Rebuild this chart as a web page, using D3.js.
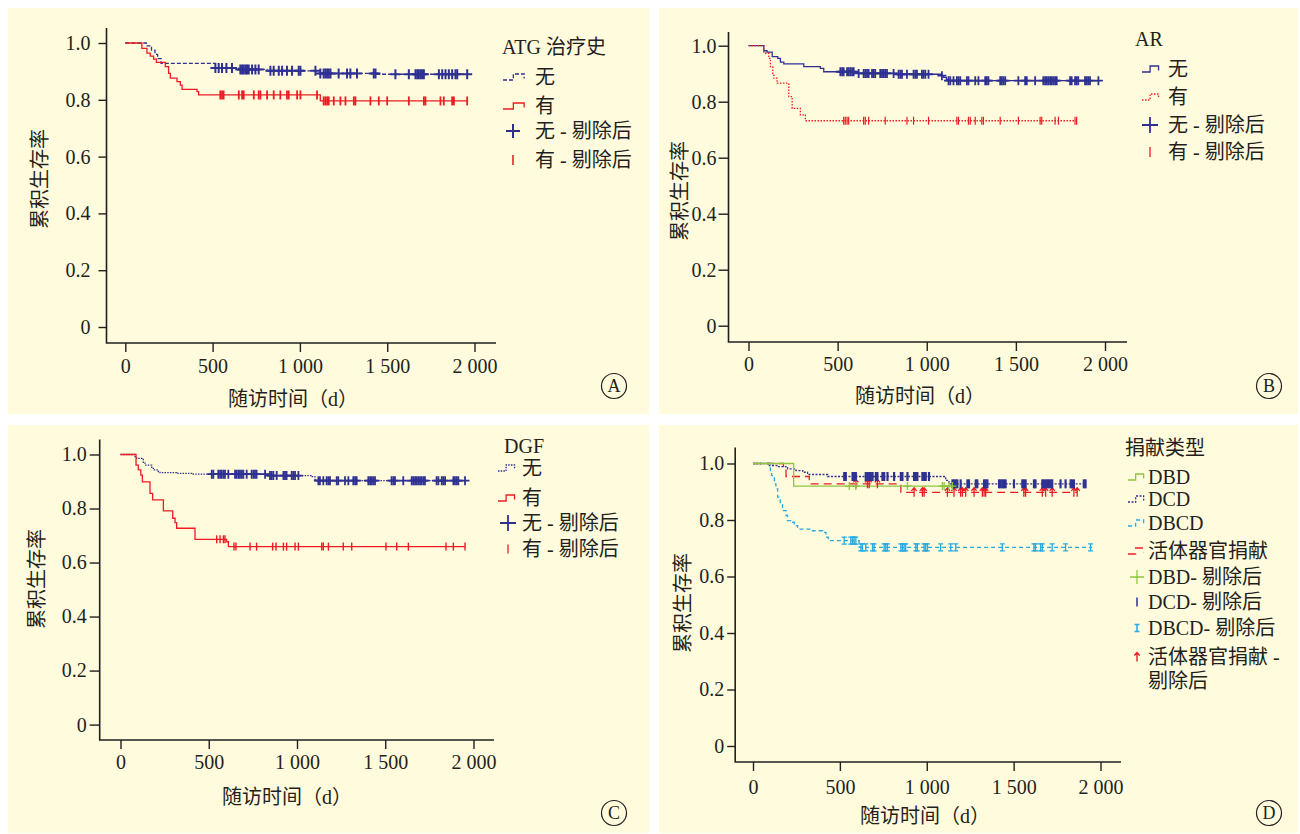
<!DOCTYPE html>
<html><head><meta charset="utf-8">
<script src="https://cdn.jsdelivr.net/npm/d3@7"></script>
<style>
body{margin:0;background:#fff;}
text{font-family:"Liberation Serif","Noto Sans CJK SC",serif;fill:#231F20;}
</style>
</head><body><script>
// ---------------- DATA ----------------
const xTickValues=[0,500,1000,1500,2000];
const xTickLabels=["0","500","1 000","1 500","2 000"];
const yTickValues=[0,0.2,0.4,0.6,0.8,1.0];
const yTickLabels=["0","0.2","0.4","0.6","0.8","1.0"];
const xAxisTitle="随访时间（d）";
const yAxisTitle="累积生存率";
const panelLetters=["A","B","C","D"];

// Panel A: ATG 治疗史
const atgTitle="ATG 治疗史";
const atgLabels=["无","有","无 - 剔除后","有 - 剔除后"];
const atgNoTime=[0,120,150,170,185,205,516,650,812,1098,1442];
const atgNoSurv=[1,0.99,0.975,0.96,0.945,0.928,0.912,0.907,0.902,0.893,0.890];
const atgNoEnd=1968;
const atgNoCensor=[516,535,554,579,611,659,669,678,688,697,707,726,745,764,831,850,879,898,926,955,993,1003,1089,1117,1136,1146,1156,1165,1175,1222,1270,1289,1327,1423,1433,1547,1624,1662,1672,1681,1691,1700,1710,1796,1815,1834,1853,1872,1891,1901,1958];
const atgYesTime=[0,95,124,143,162,178,229,248,258,296,315,325,411,420,1117];
const atgYesSurv=[1,0.981,0.964,0.954,0.943,0.932,0.917,0.893,0.876,0.864,0.852,0.837,0.829,0.817,0.796];
const atgYesEnd=1958;
const atgYesCensor=[544,554,563,650,669,678,736,764,774,812,850,888,926,936,984,1003,1098,1136,1146,1156,1165,1194,1232,1261,1309,1318,1404,1452,1500,1624,1710,1719,1805,1824,1872,1882,1958];

// Panel B: AR
const arTitle="AR";
const arLabels=["无","有","无 - 剔除后","有 - 剔除后"];
const arNoTime=[0,86,104,133,164,179,198,310,403,422,609,842,1085,1095,1110,1122];
const arNoSurv=[1,0.982,0.977,0.961,0.955,0.941,0.935,0.925,0.919,0.907,0.901,0.898,0.893,0.887,0.880,0.875];
const arNoEnd=1963;
const arNoCensor=[515,525,534,553,562,571,581,590,618,646,655,665,674,693,702,711,739,749,758,767,777,814,842,852,861,889,926,936,945,973,982,992,1010,1085,1122,1132,1150,1169,1178,1188,1225,1234,1272,1290,1328,1337,1346,1412,1421,1430,1440,1514,1552,1561,1608,1654,1664,1673,1682,1692,1701,1710,1720,1729,1804,1813,1832,1841,1850,1888,1897,1906,1916,1963];
const arYesTime=[0,86,114,123,136,142,160,226,245,291,319];
const arYesSurv=[1,0.973,0.955,0.925,0.901,0.884,0.866,0.818,0.776,0.753,0.732];
const arYesEnd=1841;
const arYesCensor=[534,543,553,562,646,655,674,767,889,926,1010,1169,1178,1234,1244,1272,1309,1318,1412,1514,1636,1645,1720,1739,1832,1841];

// Panel C: DGF
const dgfTitle="DGF";
const dgfLabels=["无","有","无 - 剔除后","有 - 剔除后"];
const dgfNoTime=[0,82,92,129,139,177,186,214,224,318,403,838,1083,1102,1111];
const dgfNoSurv=[1,0.992,0.986,0.968,0.961,0.949,0.943,0.937,0.933,0.930,0.927,0.922,0.918,0.908,0.903];
const dgfNoEnd=1952;
const dgfNoCensor=[517,526,554,564,573,583,592,611,649,658,668,677,687,696,715,743,753,762,771,819,847,856,866,885,923,932,941,970,979,989,1008,1121,1130,1149,1168,1178,1187,1225,1234,1272,1291,1319,1329,1338,1404,1414,1423,1432,1442,1536,1546,1555,1602,1650,1659,1669,1678,1687,1697,1706,1716,1725,1791,1801,1820,1829,1839,1886,1895,1905,1914,1952];
const dgfYesTime=[0,88,101,115,124,167,182,243,296,309,318,422,601,611];
const dgfYesSurv=[1,0.961,0.943,0.924,0.899,0.856,0.832,0.791,0.764,0.748,0.727,0.686,0.677,0.659];
const dgfYesEnd=1952;
const dgfYesCensor=[545,564,583,592,643,654,734,771,862,881,923,941,989,1008,1140,1149,1178,1262,1310,1504,1565,1631,1844,1886,1952];

// Panel D: 捐献类型
const donorTitle="捐献类型";
const donorLabels=["DBD","DCD","DBCD","活体器官捐献","DBD- 剔除后","DCD- 剔除后","DBCD- 剔除后","活体器官捐献 -","剔除后"];
const dbdTime=[0,234];
const dbdSurv=[1,0.920];
const dbdEnd=1176;
const dbdCensor=[554,592,889,1090,1100,1128,1148];
const dcdTime=[0,94,142,190,199,247,286,314,429,1109,1128];
const dcdSurv=[1,0.993,0.989,0.985,0.981,0.975,0.969,0.961,0.954,0.940,0.928];
const dcdEnd=1914;
const dcdCensor=[525,534,573,582,592,649,659,669,678,688,707,716,745,755,774,812,851,860,889,927,937,946,975,985,994,1013,1148,1157,1167,1176,1195,1234,1243,1282,1291,1330,1339,1349,1416,1425,1435,1444,1454,1502,1550,1559,1569,1617,1626,1665,1674,1684,1693,1703,1713,1722,1770,1799,1828,1837,1847,1904,1914];
const dbcdTime=[0,100,107,123,132,142,157,170,190,199,218,238,257,333,400,420,433,611];
const dbcdSurv=[1,0.975,0.957,0.928,0.910,0.881,0.857,0.833,0.816,0.798,0.792,0.780,0.768,0.762,0.756,0.739,0.727,0.703];
const dbcdEnd=1952;
const dbcdCensor=[525,563,573,582,592,621,630,649,688,697,755,764,774,851,860,870,879,937,946,985,994,1004,1080,1138,1167,1435,1617,1626,1655,1665,1722,1799,1943];
const livingTime=[0,175,190,324,851];
const livingSurv=[1,0.99,0.954,0.928,0.898];
const livingEnd=1866;
const livingCensor=[592,659,669,716,927,975,985,1119,1157,1195,1205,1224,1272,1320,1330,1339,1559,1569,1665,1684,1722,1847,1866];

// ---------------- STYLE ----------------
const NAVY="#2E3192", RED="#ED1C24", LBLUE="#27A9E1", GREEN="#8DC63F", BG="#FFFBDC", AX="#231F20";

const svg=d3.select("body").append("svg").attr("width",1300).attr("height",834);
svg.append("rect").attr("width",1300).attr("height",834).attr("fill","#fff");

function stepAt(times,surv,t){let v=surv[0];for(let i=0;i<times.length;i++){if(times[i]<=t)v=surv[i];}return v;}

function markPath(m,cx,cy){
  const s=m.size;
  if(m.type==="plus") return `M${cx-s},${cy}H${cx+s}M${cx},${cy-s}V${cy+s}`;
  if(m.type==="tick") return `M${cx},${cy-s}V${cy+s}`;
  if(m.type==="ibar") return `M${cx},${cy-s}V${cy+s}M${cx-2.5},${cy-s}H${cx+2.5}M${cx-2.5},${cy+s}H${cx+2.5}`;
  if(m.type==="arrow") return `M${cx},${cy+s}V${cy-s}M${cx-2.6},${cy-s+3}L${cx},${cy-s}L${cx+2.6},${cy-s+3}`;
  return "";
}

function drawPanel(c){
  const g=svg.append("g");
  g.append("rect").attr("x",c.bg[0]).attr("y",c.bg[1]).attr("width",c.bg[2]).attr("height",c.bg[3]).attr("fill",BG);
  const x=d3.scaleLinear().domain([0,2000]).range([c.x0,c.x2000]);
  const y=d3.scaleLinear().domain([0,1]).range([c.y0,c.y1]);

  const ya=g.append("g").attr("transform",`translate(${c.left},0)`)
    .call(d3.axisLeft(y).tickValues(yTickValues).tickFormat(d=>yTickLabels[yTickValues.indexOf(d)]).tickSize(c.yTick).tickPadding(c.yPad));
  const xa=g.append("g").attr("transform",`translate(0,${c.bottom})`)
    .call(d3.axisBottom(x).tickValues(xTickValues).tickFormat(d=>xTickLabels[xTickValues.indexOf(d)]).tickSize(c.xTick).tickPadding(c.xPad));
  [ya,xa].forEach(a=>{
    a.select(".domain").remove();
    a.selectAll("line").attr("stroke",AX).attr("stroke-width",1.4);
    a.selectAll("text").attr("font-size",20).attr("fill",AX).attr("font-family",'"Liberation Serif",serif');
  });
  g.append("path").attr("d",`M${c.left},${c.top}V${c.bottom}H${c.right}`).attr("fill","none").attr("stroke",AX).attr("stroke-width",1.6);

  // curves
  c.series.forEach(s=>{
    const pts=s.time.map((t,i)=>[t,s.surv[i]]);
    pts.push([s.end,s.surv[s.surv.length-1]]);
    g.append("path").attr("d",d3.line().x(d=>x(d[0])).y(d=>y(d[1])).curve(d3.curveStepAfter)(pts))
      .attr("fill","none").attr("stroke",s.color).attr("stroke-width",1.3)
      .attr("stroke-dasharray",s.dash||null);
  });
  // censor marks
  c.series.forEach(s=>{
    s.censor.forEach(t=>{
      g.append("path").attr("d",markPath(s.mark,x(t),y(stepAt(s.time,s.surv,t))))
        .attr("fill","none").attr("stroke",s.color).attr("stroke-width",s.mark.w);
    });
  });

  // axis titles
  g.append("text").attr("x",c.xt[0]).attr("y",c.xt[1]).attr("dy","0.35em").attr("text-anchor","middle").attr("font-size",20).text(xAxisTitle);
  g.append("text").attr("transform",`translate(${c.yt[0]},${c.yt[1]}) rotate(-90)`).attr("dy","0.35em").attr("text-anchor","middle").attr("font-size",20).text(yAxisTitle);

  // legend
  const L=c.legend;
  g.append("text").attr("x",L.titleX).attr("y",L.titleY).attr("dy","0.35em").attr("font-size",20).text(L.title);
  L.labels.forEach((lab,i)=>{
    const ry=L.rows[i];
    g.append("text").attr("x",L.textX).attr("y",ry).attr("dy","0.35em").attr("font-size",20).text(lab);
    const sym=L.syms[i];
    if(!sym) return;
    if(sym.kind==="step"){
      const w=L.symW, x0=L.symX;
      g.append("path").attr("d",`M${x0},${ry+3}H${x0+w*0.45}V${ry-3}H${x0+w*0.92}V${ry+1.5}`)
        .attr("fill","none").attr("stroke",sym.s.color).attr("stroke-width",1.3).attr("stroke-dasharray",sym.s.dash||null);
    } else {
      const m=Object.assign({},sym.s.mark,{size:sym.size||sym.s.mark.size});
      g.append("path").attr("d",markPath(m,L.markX,ry)).attr("fill","none").attr("stroke",sym.s.color).attr("stroke-width",sym.w||sym.s.mark.w);
    }
  });

  // panel letter
  g.append("circle").attr("cx",c.circ[0]).attr("cy",c.circ[1]).attr("r",12.5).attr("fill","none").attr("stroke",AX).attr("stroke-width",1.2);
  g.append("text").attr("x",c.circ[0]).attr("y",c.circ[1]).attr("dy","0.36em").attr("text-anchor","middle").attr("font-size",18).text(c.letter);
}

// ---------------- PANELS ----------------
const sA=[
  {time:atgNoTime,surv:atgNoSurv,end:atgNoEnd,censor:atgNoCensor,color:NAVY,dash:"4,2",mark:{type:"plus",size:5,w:2}},
  {time:atgYesTime,surv:atgYesSurv,end:atgYesEnd,censor:atgYesCensor,color:RED,dash:null,mark:{type:"tick",size:4.5,w:1.8}}
];
drawPanel({bg:[8,8,641,406],left:106.5,right:496,top:28,bottom:343,x0:125.3,x2000:474.5,y0:327,y1:43,
  yTick:8,yPad:8,xTick:9,xPad:7,xt:[293,399],yt:[40,179],circ:[614,386],letter:panelLetters[0],series:sA,
  legend:{title:atgTitle,titleX:502,titleY:47,labels:atgLabels,rows:[77,106,131,160],textX:535,symX:503,symW:23,markX:513,
    syms:[{kind:"step",s:sA[0]},{kind:"step",s:sA[1]},{kind:"mark",s:sA[0],size:7,w:2},{kind:"mark",s:sA[1],size:5,w:1.6}]}});

const sB=[
  {time:arNoTime,surv:arNoSurv,end:arNoEnd,censor:arNoCensor,color:NAVY,dash:null,mark:{type:"plus",size:4.5,w:1.8}},
  {time:arYesTime,surv:arYesSurv,end:arYesEnd,censor:arYesCensor,color:RED,dash:"1.5,1.5",mark:{type:"tick",size:4,w:1.2}}
];
drawPanel({bg:[659,8,639,406],left:728.5,right:1127,top:32,bottom:342,x0:748.5,x2000:1105,y0:325.7,y1:45.7,
  yTick:10,yPad:2,xTick:9,xPad:6,xt:[920,396],yt:[680,191],circ:[1269,386],letter:panelLetters[1],series:sB,
  legend:{title:arTitle,titleX:1135,titleY:39,labels:arLabels,rows:[69,97,125,152],textX:1168,symX:1142,symW:18,markX:1150,
    syms:[{kind:"step",s:sB[0]},{kind:"step",s:sB[1]},{kind:"mark",s:sB[0],size:8,w:1.8},{kind:"mark",s:sB[1],size:5,w:1.3}]}});

const sC=[
  {time:dgfNoTime,surv:dgfNoSurv,end:dgfNoEnd,censor:dgfNoCensor,color:NAVY,dash:"1.5,1.2",mark:{type:"plus",size:4.5,w:1.8}},
  {time:dgfYesTime,surv:dgfYesSurv,end:dgfYesEnd,censor:dgfYesCensor,color:RED,dash:null,mark:{type:"tick",size:4,w:1.4}}
];
drawPanel({bg:[8,425,641,408],left:99.7,right:494,top:439.5,bottom:740,x0:120.5,x2000:473.5,y0:724.6,y1:454.5,
  yTick:10,yPad:3,xTick:9,xPad:6,xt:[287,797],yt:[36.5,579],circ:[614,813],letter:panelLetters[2],series:sC,
  legend:{title:dgfTitle,titleX:504,titleY:446,labels:dgfLabels,rows:[468,498,523,549],textX:522,symX:498,symW:18,markX:508,
    syms:[{kind:"step",s:sC[0]},{kind:"step",s:sC[1]},{kind:"mark",s:sC[0],size:8,w:1.8},{kind:"mark",s:sC[1],size:4.5,w:1.3}]}});

const sD=[
  {time:dbcdTime,surv:dbcdSurv,end:dbcdEnd,censor:dbcdCensor,color:LBLUE,dash:"4,3",mark:{type:"ibar",size:3.5,w:1.3}},
  {time:livingTime,surv:livingSurv,end:livingEnd,censor:livingCensor,color:RED,dash:"8,5",mark:{type:"arrow",size:4.5,w:1.3}},
  {time:dcdTime,surv:dcdSurv,end:dcdEnd,censor:dcdCensor,color:NAVY,dash:"2,1.5",mark:{type:"tick",size:4.5,w:2.2}},
  {time:dbdTime,surv:dbdSurv,end:dbdEnd,censor:dbdCensor,color:GREEN,dash:null,mark:{type:"plus",size:4,w:1.3}}
];
drawPanel({bg:[659,425,639,408],left:735.2,right:1121,top:447.5,bottom:762,x0:753,x2000:1100.5,y0:746,y1:463.5,
  yTick:8,yPad:3,xTick:9,xPad:9,xt:[925,816],yt:[682.5,603],circ:[1269,813],letter:panelLetters[3],series:sD,
  legend:{title:donorTitle,titleX:1125,titleY:448,labels:donorLabels,rows:[477,499,523,551,577,602,628,657,681],textX:1148,symX:1128,symW:17,markX:1137,
    syms:[{kind:"step",s:sD[3]},{kind:"step",s:sD[2]},{kind:"step",s:sD[0]},{kind:"step",s:sD[1]},
          {kind:"mark",s:sD[3],size:7,w:1.3},{kind:"mark",s:sD[2],size:4.5,w:1.5},{kind:"mark",s:sD[0],size:3.5,w:1.5},{kind:"mark",s:sD[1],size:4.5,w:1.4},null]}});
</script></body></html>
